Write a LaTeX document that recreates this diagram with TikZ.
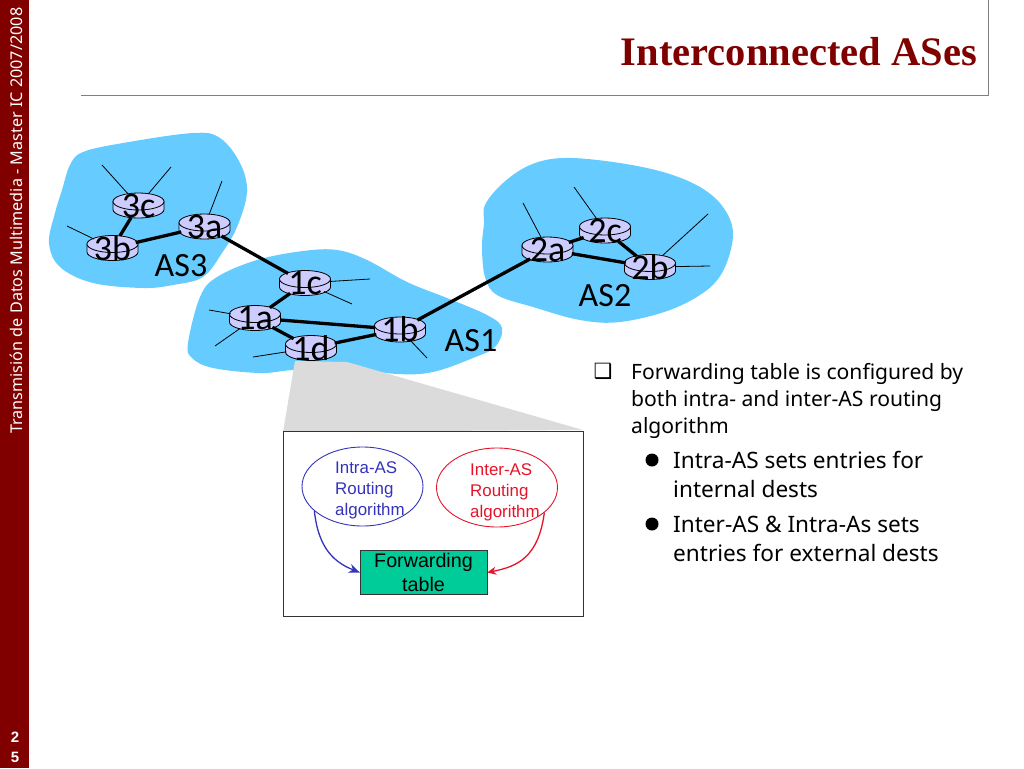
\documentclass[tikz,border=0pt]{standalone}
\usepackage{fontspec}
\setmainfont{Liberation Sans}
\newfontfamily\slidefont{Noto Sans}
\newfontfamily\titlefont{Liberation Serif}
\newfontfamily\handfont{Carlito}
\newfontfamily\symbfont{DejaVu Sans}
\usetikzlibrary{arrows.meta,shapes.geometric,positioning,calc}
\definecolor{barred}{RGB}{128,0,0}
\definecolor{asblue}{RGB}{102,204,255}
\definecolor{routerfill}{RGB}{204,204,255}
\definecolor{tablegreen}{RGB}{0,204,153}
\definecolor{intrablue}{RGB}{51,51,187}
\definecolor{interred}{RGB}{230,20,40}
\tikzset{
  router/.style={ellipse, minimum width=51pt, minimum height=25pt, inner sep=0pt},
  routertext/.style={inner sep=0pt, font=\handfont\fontsize{36}{36}\selectfont},
  aslabel/.style={font=\handfont\fontsize{34}{34}\selectfont},
  link/.style={line width=3.3pt},
  stub/.style={line width=0.8pt},
  algotext/.style={align=left, anchor=west, inner sep=0pt, font=\fontsize{16.9}{21}\selectfont},
  bullettext/.style={align=left, anchor=north west, inner sep=0pt, font=\slidefont\fontsize{21.1}{27}\selectfont},
  subtext/.style={align=left, anchor=north west, inner sep=0pt, font=\slidefont\fontsize{22.6}{29}\selectfont},
}
\begin{document}
\begin{tikzpicture}[x=1pt,y=-1pt]
\useasboundingbox (0,0) rectangle (1024,768);
% Side bar
\fill[barred] (0,0) rectangle (29,768);
\node[rotate=90, anchor=west, inner sep=0pt, text=white, font=\slidefont\fontsize{16.2}{16}\selectfont] (barlabel) at (16,434) {Transmisión de Datos Multimedia - Master IC 2007/2008};
\node[text=white, inner sep=0pt, font=\bfseries\fontsize{15}{15}\selectfont] (pageb) at (15,737) {2};
\node[text=white, inner sep=0pt, font=\bfseries\fontsize{15}{15}\selectfont] (pagea) at (15,757) {5};
% Title
\node[anchor=east, inner sep=0pt, text=barred, font=\titlefont\bfseries\fontsize{40.5}{40}\selectfont] (slidetitle) at (977,52) {Interconnected ASes};
\draw[gray, line width=1pt] (81,95) -- (988,95) -- (988,0);
% AS clouds
\fill[asblue] plot[smooth cycle, tension=0.6] coordinates {(70,165) (83,152) (123,143) (193,133) (220,138) (240,163) (247,192) (237,227) (222,253) (203,277) (173,285) (143,288) (93,283) (60,267) (49,243) (55,213) (62,190)};
\fill[asblue] plot[smooth cycle, tension=0.6] coordinates {(188,343) (200,297) (217,277) (257,260) (303,251) (337,250) (367,260) (407,282) (447,298) (487,315) (502,328) (495,347) (473,358) (433,372) (397,374) (347,368) (293,370) (260,373) (213,368) (192,358)};
\fill[asblue] plot[smooth cycle, tension=0.6] coordinates {(485,205) (503,183) (530,165) (563,158) (613,162) (663,172) (700,187) (723,207) (733,233) (725,267) (707,290) (670,310) (620,322) (580,320) (533,307) (497,295) (485,277) (482,247) (484,223)};
% Zoom wedge and box
\fill[black!14] (295,361) -- (347,362) -- (583,430) -- (283,432) -- cycle;
\draw[black!80, fill=white, line width=0.9pt] (283,431) rectangle (583,616);
% Routers
\foreach \n/\x/\y in {3c/138.5/205.5,3b/112.5/248,3a/204.5/226.5,1c/305/283,1a/255/318,1d/311/348,1b/400/329.5,2a/547.5/249.5,2c/605/230.5,2b/650/267} {
  \filldraw[fill=routerfill, line width=0.8pt] (\x-25.5,\y-4) -- (\x-25.5,\y+4) arc (180:0:25.5 and 8.5) -- (\x+25.5,\y-4) -- cycle;
  \filldraw[fill=routerfill, line width=0.8pt] (\x,\y-4) ellipse (25.5 and 8.5);
  \node[router] (r\n) at (\x,\y) {};
}
% Stub lines
\foreach \n/\c/\x/\y in {3c/a/102/165,3c/b/171/167,3b/a/67/226,3a/a/222/181,1c/a/370/279,1c/b/352/304,1a/a/209/310,1a/b/215/346,1d/a/253/357,1b/a/427/358,2a/a/523/203,2c/a/574/187,2b/a/708/214,2b/b/710/266} {
  \coordinate (s\n\c) at (\x,\y);
  \draw[stub] (s\n\c) -- (r\n);
}
% Links between routers
\foreach \a/\b in {3c/3b,3b/3a,3a/1c,1c/1a,1a/1b,1a/1d,1d/1b,1b/2a,2a/2c,2a/2b,2c/2b} {
  \draw[link] (r\a) -- (r\b);
}
% Router names
\foreach \n in {3c,3b,3a,1c,1a,1d,1b,2a,2c,2b} {
  \node[routertext] (t\n) at (r\n) {\n};
}
\node[aslabel] (as3) at (181,266) {AS3};
\node[aslabel] (as1) at (471,341) {AS1};
\node[aslabel] (as2) at (605,296) {AS2};
% Routing algorithms
\node[ellipse, draw=intrablue, line width=0.9pt, minimum width=121pt, minimum height=79pt, inner sep=0pt] (intra) at (362.5,486.5) {};
\node[ellipse, draw=interred, line width=0.9pt, minimum width=121pt, minimum height=79pt, inner sep=0pt] (inter) at (497,487.5) {};
\node[algotext, text=intrablue] (intratext) at (335,490.5) {Intra-AS\\Routing\\algorithm};
\node[algotext, text=interred] (intertext) at (470,492) {Inter-AS\\Routing\\algorithm};
\node[draw=black!80, fill=tablegreen, minimum width=127pt, minimum height=44pt, inner sep=0pt, align=center, font=\fontsize{19.7}{24}\selectfont] (fwd) at (423.5,572.5) {Forwarding\\table};
\draw[-{Stealth[length=11pt,width=9pt]}, intrablue, line width=1.3pt] (intra.207) .. controls +(4,38) and +(-25,-10) .. (fwd.west);
\draw[-{Stealth[length=9pt,width=8pt]}, interred, line width=1.3pt] (inter.332) .. controls +(-6,45) and +(30,-6) .. (fwd.east);
% Bullets
\node[inner sep=0pt, font=\symbfont\fontsize{21}{21}\selectfont] (box) at (603,371) {❑};
\node[bullettext] (bulletmain) at (631,363) {Forwarding table is configured by\\both intra- and inter-AS routing\\algorithm};
\node[fill=black, circle, inner sep=0pt, minimum size=13pt] (dota) at (652,460) {};
\node[subtext] (subone) at (673,451) {Intra-AS sets entries for\\internal dests};
\node[fill=black, circle, inner sep=0pt, minimum size=13pt] (dotb) at (652,524) {};
\node[subtext] (subtwo) at (673,515.5) {Inter-AS \& Intra-As sets\\entries for external dests};
\end{tikzpicture}
\end{document}
